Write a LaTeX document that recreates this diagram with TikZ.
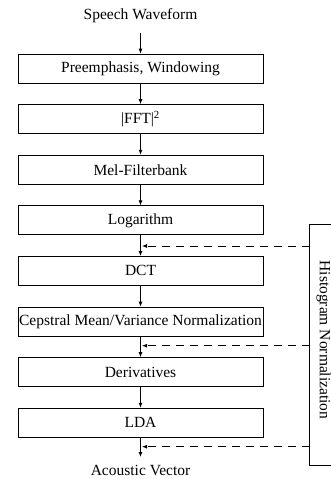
\documentclass[tikz,border=0pt]{standalone}
\usepackage{fontspec}
\setmainfont{Liberation Serif}
\usetikzlibrary{arrows.meta}
\begin{document}
\begin{tikzpicture}[x=1pt,y=-1pt,
  every node/.style={font=\fontsize{15.5}{18}\selectfont},
  stage/.style={draw, line width=0.8pt, minimum width=245pt, minimum height=29pt,
    inner sep=0pt, anchor=center},
  flow/.style={line width=0.8pt, -{Latex[length=5pt,width=4pt]}},
  feedback/.style={line width=0.8pt, dash pattern=on 8pt off 6pt,
    -{Latex[length=5pt,width=4pt]}}]
\useasboundingbox (0,0) rectangle (331,479);
\clip (0,0) rectangle (331,479);

% input and output labels
\node (in)  at (140.5,16) {Speech Waveform};
\node (out) at (140.5,470.5) {Acoustic Vector};

% processing chain
\node[stage] (pre) at (140.5,68.5)  {Preemphasis, Windowing};
\node[stage] (fft) at (140.5,119.1) {|FFT|\textsuperscript{2}};
\node[stage] (mel) at (140.5,169.7) {Mel-Filterbank};
\node[stage] (log) at (140.5,220.3) {Logarithm};
\node[stage] (dct) at (140.5,270.9) {DCT};
\node[stage] (cep) at (140.5,321.5) {Cepstral Mean/Variance Normalization};
\node[stage] (der) at (140.5,372.1) {Derivatives};
\node[stage] (lda) at (140.5,422.7) {LDA};

\coordinate (top) at (140.5,33);
\coordinate (end) at (140.5,457);
\draw[flow] (top) -- (pre.north);
\draw[flow] (pre) -- (fft);
\draw[flow] (fft) -- (mel);
\draw[flow] (mel) -- (log);
\draw[flow] (log) -- (dct);
\draw[flow] (dct) -- (cep);
\draw[flow] (cep) -- (der);
\draw[flow] (der) -- (lda);
\draw[flow] (lda.south) -- (end);

% histogram normalization block (open to the right)
\draw[line width=0.8pt] (340,224.5) -- (309.5,224.5) -- (309.5,465) -- (340,465);
\node[rotate=-90] (hist) at (323.5,340) {Histogram Normalization};

% insertion points of the normalization
\coordinate (h1) at (309.5,246);
\coordinate (h2) at (309.5,345.7);
\coordinate (h3) at (309.5,446.7);
\coordinate (t1) at (142,246);
\coordinate (t2) at (142,345.7);
\coordinate (t3) at (142,446.7);
\draw[feedback] (h1) -- (t1);
\draw[feedback] (h2) -- (t2);
\draw[feedback] (h3) -- (t3);
\end{tikzpicture}
\end{document}
